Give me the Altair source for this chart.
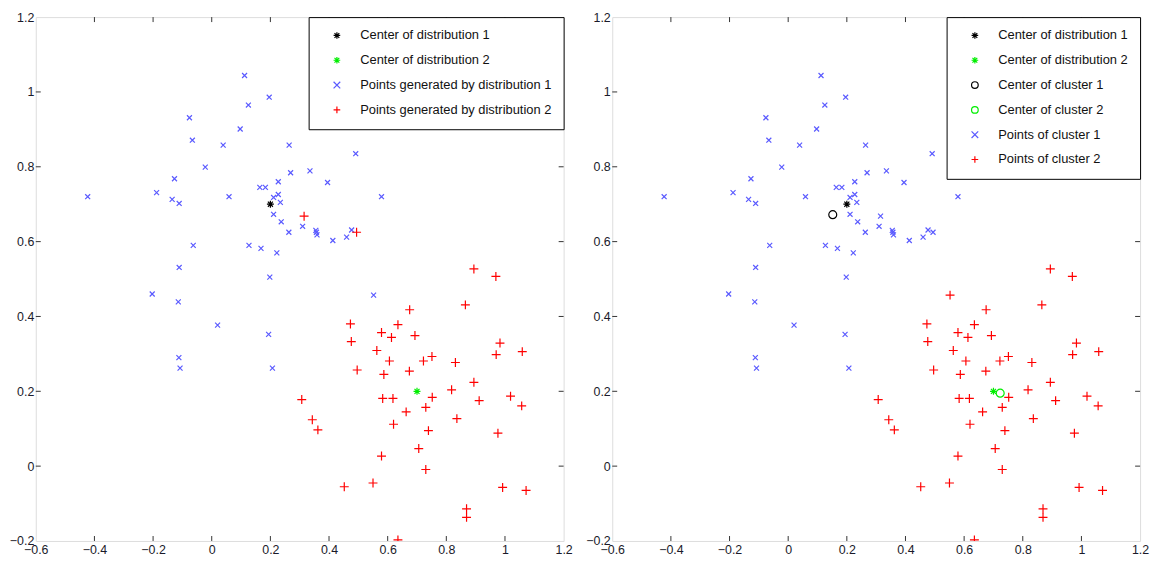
import altair as alt
import pandas as pd

# ---- data ----
X_TICKS = [-0.6, -0.4, -0.2, 0, 0.2, 0.4, 0.6, 0.8, 1.0, 1.2]
Y_TICKS = [-0.2, 0, 0.2, 0.4, 0.6, 0.8, 1.0, 1.2]

center1 = (0.2, 0.7)
center2 = (0.7, 0.2)
cluster_center1 = (0.152, 0.672)
cluster_center2 = (0.723, 0.195)

dist1_x = [-0.423, 0.112, 0.125, 0.196, -0.076, -0.066, 0.097, 0.039, 0.264, -0.022,
           0.269, -0.127, -0.188, -0.135, -0.111, 0.059, 0.164, 0.183, 0.227, 0.227,
           0.211, 0.234, 0.211, 0.237, 0.263, -0.063, 0.127, 0.168, 0.222, -0.111,
           0.198, 0.491, 0.335, 0.395, 0.579, 0.310, 0.355, 0.357, 0.359, 0.413,
           0.460, 0.477, -0.203, -0.114, 0.020, 0.194, -0.112, -0.108, 0.207, 0.552]
dist1_y = [0.720, 1.044, 0.965, 0.986, 0.931, 0.871, 0.901, 0.858, 0.858, 0.799,
           0.784, 0.768, 0.731, 0.713, 0.702, 0.720, 0.745, 0.745, 0.760, 0.726,
           0.718, 0.705, 0.673, 0.653, 0.625, 0.590, 0.590, 0.582, 0.570, 0.531,
           0.505, 0.835, 0.789, 0.758, 0.720, 0.641, 0.630, 0.625, 0.618, 0.603,
           0.612, 0.631, 0.460, 0.439, 0.377, 0.352, 0.290, 0.262, 0.262, 0.457]
dist1_cluster = [1] * 49 + [2]

dist2_x = [0.315, 0.494, 0.894, 0.969, 0.865, 0.675, 0.473, 0.635, 0.579, 0.613,
           0.693, 0.476, 0.983, 0.563, 0.970, 1.059, 0.606, 0.722, 0.751, 0.831,
           0.496, 0.587, 0.674, 0.894, 0.818, 0.307, 0.583, 0.618, 0.752, 0.912,
           1.019, 1.057, 0.730, 0.663, 0.343, 0.836, 0.620, 0.362, 0.739, 0.976,
           0.706, 0.579, 0.730, 0.452, 0.550, 0.992, 1.072, 0.869, 0.869, 0.635]
dist2_y = [0.668, 0.625, 0.527, 0.507, 0.431, 0.418, 0.380, 0.378, 0.357, 0.344,
           0.349, 0.333, 0.329, 0.309, 0.298, 0.306, 0.281, 0.281, 0.293, 0.277,
           0.257, 0.245, 0.254, 0.224, 0.204, 0.178, 0.181, 0.181, 0.184, 0.175,
           0.187, 0.161, 0.157, 0.145, 0.124, 0.127, 0.112, 0.097, 0.095, 0.088,
           0.047, 0.027, -0.009, -0.055, -0.045, -0.057, -0.065, -0.114, -0.137, -0.197]
dist2_cluster = [1, 1] + [2] * 48

# ---- styles ----
XSHAPE = "M-1,-1L1,1M-1,1L1,-1"
PLUS = "M-1,0L1,0M0,-1L0,1"
STAR = "M-1,0L1,0M0,-1L0,1M-0.72,-0.72L0.72,0.72M-0.72,0.72L0.72,-0.72"
BLUE, RED, GREEN, BLACK = "#5a5aff", "#ff0000", "#00ee00", "#000000"
FONT = "Liberation Sans"
W = 532
H = 528
SIZE = {"x": 25, "plus": 81, "star": 49, "circle": 64}

L_C1, L_C2 = "Center of distribution 1", "Center of distribution 2"
L_P1, L_P2 = "Points generated by distribution 1", "Points generated by distribution 2"
R_K1, R_K2 = "Center of cluster 1", "Center of cluster 2"
R_P1, R_P2 = "Points of cluster 1", "Points of cluster 2"

left_rows = []
for x, y in zip(dist1_x, dist1_y):
    left_rows.append({"x": x, "y": y, "series": L_P1, "sz": SIZE["x"]})
for x, y in zip(dist2_x, dist2_y):
    left_rows.append({"x": x, "y": y, "series": L_P2, "sz": SIZE["plus"]})
left_rows.append({"x": center1[0], "y": center1[1], "series": L_C1, "sz": SIZE["star"]})
left_rows.append({"x": center2[0], "y": center2[1], "series": L_C2, "sz": SIZE["star"]})
left_df = pd.DataFrame(left_rows)

right_rows = []
for xs_, ys_, cs_ in ((dist1_x, dist1_y, dist1_cluster), (dist2_x, dist2_y, dist2_cluster)):
    for x, y, c in zip(xs_, ys_, cs_):
        if c == 1:
            right_rows.append({"x": x, "y": y, "series": R_P1, "sz": SIZE["x"]})
        else:
            right_rows.append({"x": x, "y": y, "series": R_P2, "sz": SIZE["plus"]})
right_rows.append({"x": center1[0], "y": center1[1], "series": L_C1, "sz": SIZE["star"]})
right_rows.append({"x": center2[0], "y": center2[1], "series": L_C2, "sz": SIZE["star"]})
right_rows.append({"x": cluster_center1[0], "y": cluster_center1[1], "series": R_K1, "sz": SIZE["circle"]})
right_rows.append({"x": cluster_center2[0], "y": cluster_center2[1], "series": R_K2, "sz": SIZE["circle"]})
right_df = pd.DataFrame(right_rows)

xticks_df = pd.DataFrame({"v": X_TICKS[1:-1]})
yticks_df = pd.DataFrame({"v": Y_TICKS[1:-1]})

xscale = alt.Scale(domain=[-0.6, 1.2], nice=False, zero=False)
yscale = alt.Scale(domain=[-0.2, 1.2], nice=False, zero=False)

xaxis = alt.Axis(values=X_TICKS, format="~g", labelFlush=False, ticks=False, tickSize=0,
                 minExtent=17, maxExtent=17, domain=False, grid=False, title=None,
                 labelFontSize=12.5, labelFont=FONT, labelColor="#1a1a2a", labelPadding=3)
yaxis = alt.Axis(values=Y_TICKS, format="~g", labelFlush=False, ticks=False, tickSize=0,
                 minExtent=24, maxExtent=24, domain=False, grid=False, title=None,
                 labelFontSize=12.5, labelFont=FONT, labelColor="#1a1a2a", labelPadding=2)


def panel(df, domain, colors, shapes):
    leg = alt.Legend(orient="top-right", offset=0, title=None, strokeColor="black",
                     fillColor="white", padding=12, labelFontSize=13, labelFont=FONT,
                     labelColor="#111", symbolOffset=10, labelOffset=17, rowPadding=11,
                     symbolSize=45, symbolStrokeWidth=1.2, cornerRadius=0, labelLimit=400)
    pts = alt.Chart(df).mark_point(filled=False, strokeWidth=1.2, opacity=1, clip=True).encode(
        x=alt.X("x:Q", scale=xscale, axis=xaxis),
        y=alt.Y("y:Q", scale=yscale, axis=yaxis),
        color=alt.Color("series:N", scale=alt.Scale(domain=domain, range=colors), legend=leg),
        shape=alt.Shape("series:N", scale=alt.Scale(domain=domain, range=shapes), legend=leg),
        size=alt.Size("sz:Q", scale=None),
    )
    tc = "#333333"
    bt = alt.Chart(xticks_df).mark_rule(color=tc, strokeWidth=1).encode(
        x=alt.X("v:Q", scale=xscale, axis=xaxis), y=alt.value(H), y2=alt.value(H - 5))
    tt = alt.Chart(xticks_df).mark_rule(color=tc, strokeWidth=1).encode(
        x=alt.X("v:Q", scale=xscale, axis=xaxis), y=alt.value(0), y2=alt.value(5))
    lt = alt.Chart(yticks_df).mark_rule(color=tc, strokeWidth=1).encode(
        y=alt.Y("v:Q", scale=yscale, axis=yaxis), x=alt.value(0), x2=alt.value(5))
    rt = alt.Chart(yticks_df).mark_rule(color=tc, strokeWidth=1).encode(
        y=alt.Y("v:Q", scale=yscale, axis=yaxis), x=alt.value(W), x2=alt.value(W - 5))
    return alt.layer(pts, bt, tt, lt, rt).properties(width=W, height=H)


left = panel(left_df,
             [L_C1, L_C2, L_P1, L_P2],
             [BLACK, GREEN, BLUE, RED],
             [STAR, STAR, XSHAPE, PLUS])
right = panel(right_df,
              [L_C1, L_C2, R_K1, R_K2, R_P1, R_P2],
              [BLACK, GREEN, BLACK, GREEN, BLUE, RED],
              [STAR, STAR, "circle", "circle", XSHAPE, PLUS])

chart = alt.hconcat(left, right, spacing=11).resolve_scale(
    color="independent", shape="independent"
).resolve_legend(color="independent", shape="independent").properties(
    padding=0
).configure_axisX(minExtent=17, maxExtent=17).configure_axisY(
    minExtent=24, maxExtent=24
).configure_view(stroke="#333333", strokeWidth=1).configure(background="white")

chart.save("out.html", embed_options={"renderer": "svg", "actions": False})
